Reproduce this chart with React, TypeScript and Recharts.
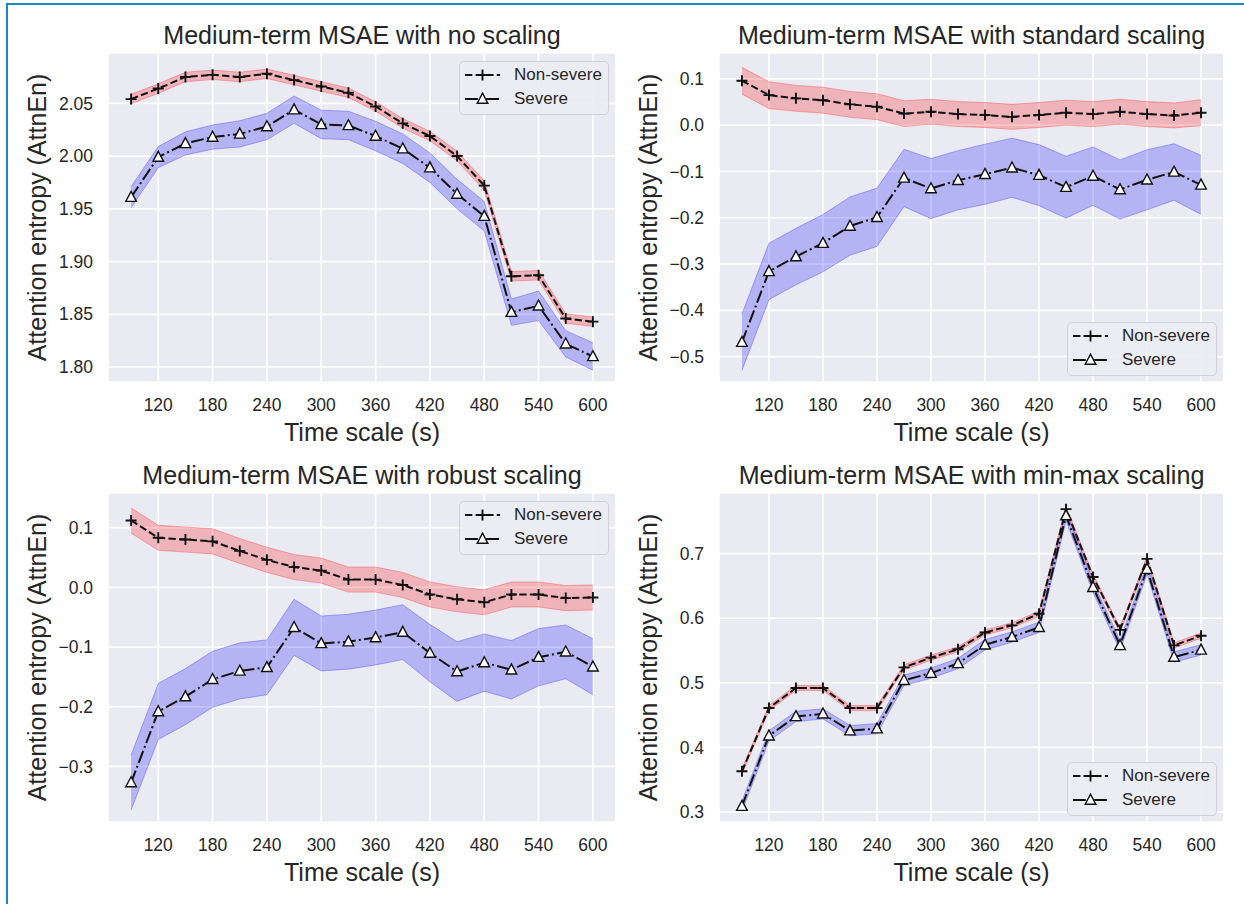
import React from "react";
import { ComposedChart, Area, Line, XAxis, YAxis, CartesianGrid } from "recharts";

// time scales (s) shared by every panel
const TIME_SCALES = [90, 120, 150, 180, 210, 240, 270, 300, 330, 360, 390, 420, 450, 480, 510, 540, 570, 600];
const X_TICKS = [120, 180, 240, 300, 360, 420, 480, 540, 600];

// no scaling
const NONE_NON_SEVERE = [2.054, 2.064, 2.075, 2.077, 2.075, 2.078, 2.072, 2.066, 2.06, 2.047, 2.031, 2.019, 2.0, 1.972, 1.886, 1.887, 1.846, 1.843];
const NONE_NON_SEVERE_CI = [0.0045, 0.0045, 0.0045, 0.0045, 0.0045, 0.0045, 0.0045, 0.0045, 0.0045, 0.0045, 0.0045, 0.0045, 0.0045, 0.0045, 0.0045, 0.0045, 0.0045, 0.0045];
const NONE_SEVERE = [1.961, 1.999, 2.012, 2.018, 2.021, 2.028, 2.044, 2.03, 2.029, 2.019, 2.007, 1.989, 1.964, 1.943, 1.852, 1.858, 1.822, 1.81];
const NONE_SEVERE_CI = [0.01, 0.01, 0.011, 0.0115, 0.0125, 0.0125, 0.013, 0.0135, 0.0135, 0.014, 0.014, 0.014, 0.014, 0.014, 0.0125, 0.014, 0.0125, 0.013];

// standard scaling
const STD_NON_SEVERE = [0.096, 0.065, 0.058, 0.054, 0.045, 0.04, 0.025, 0.029, 0.024, 0.022, 0.018, 0.022, 0.027, 0.024, 0.029, 0.024, 0.021, 0.027];
const STD_NON_SEVERE_CI = [0.029, 0.029, 0.028, 0.028, 0.028, 0.028, 0.028, 0.027, 0.027, 0.027, 0.027, 0.027, 0.027, 0.027, 0.027, 0.027, 0.027, 0.028];
const STD_SEVERE = [-0.469, -0.316, -0.284, -0.255, -0.218, -0.199, -0.114, -0.137, -0.119, -0.106, -0.092, -0.108, -0.134, -0.11, -0.139, -0.118, -0.101, -0.129];
const STD_SEVERE_CI = [0.061, 0.061, 0.061, 0.062, 0.063, 0.063, 0.062, 0.065, 0.064, 0.065, 0.064, 0.066, 0.067, 0.063, 0.064, 0.065, 0.061, 0.064];

// robust scaling
const ROBUST_NON_SEVERE = [0.112, 0.083, 0.08, 0.077, 0.061, 0.046, 0.034, 0.028, 0.013, 0.013, 0.004, -0.012, -0.02, -0.025, -0.012, -0.012, -0.018, -0.017];
const ROBUST_NON_SEVERE_CI = [0.021, 0.021, 0.021, 0.021, 0.021, 0.021, 0.021, 0.021, 0.021, 0.021, 0.021, 0.021, 0.021, 0.021, 0.021, 0.021, 0.021, 0.021];
const ROBUST_SEVERE = [-0.327, -0.208, -0.183, -0.154, -0.14, -0.134, -0.067, -0.094, -0.091, -0.084, -0.075, -0.11, -0.141, -0.126, -0.138, -0.117, -0.108, -0.133];
const ROBUST_SEVERE_CI = [0.046, 0.047, 0.047, 0.047, 0.047, 0.046, 0.047, 0.046, 0.046, 0.046, 0.046, 0.048, 0.05, 0.048, 0.049, 0.048, 0.045, 0.047];

// min-max scaling
const MINMAX_NON_SEVERE = [0.363, 0.461, 0.492, 0.492, 0.461, 0.461, 0.524, 0.539, 0.552, 0.578, 0.589, 0.607, 0.769, 0.664, 0.582, 0.692, 0.558, 0.573];
const MINMAX_NON_SEVERE_CI = [0.004, 0.004, 0.004, 0.004, 0.004, 0.004, 0.004, 0.004, 0.004, 0.004, 0.004, 0.004, 0.004, 0.004, 0.004, 0.004, 0.004, 0.004];
const MINMAX_SEVERE = [0.309, 0.418, 0.448, 0.452, 0.426, 0.429, 0.504, 0.515, 0.53, 0.559, 0.571, 0.586, 0.759, 0.648, 0.558, 0.676, 0.54, 0.551];
const MINMAX_SEVERE_CI = [0.008, 0.008, 0.008, 0.008, 0.008, 0.008, 0.008, 0.008, 0.008, 0.008, 0.008, 0.008, 0.008, 0.008, 0.008, 0.008, 0.008, 0.008];

const FONT = '"Liberation Sans", Arial, sans-serif';
const TEXT = "#262626";
const X_DOMAIN: [number, number] = [64.5, 625.5];
const AXIS_W = 90;
const AXIS_H = 70;
const NS_DASH = "7.4 3.2";
const SV_DASH = "12.8 3.2 2 3.2";

const tickStyle = { fill: TEXT, fontSize: 17.5, fontFamily: FONT };

const fmt = (digits: number) => (v: number) => {
  const s = Math.abs(v).toFixed(digits);
  return v < -1e-9 ? "\u2212" + s : s;
};

function plusDot(p: any) {
  const { cx, cy, index } = p;
  if (cx == null || cy == null) return <g key={`p-${index}`} />;
  return (
    <path
      key={`p-${index}`}
      d={`M${cx - 5.5},${cy}H${cx + 5.5}M${cx},${cy - 5.5}V${cy + 5.5}`}
      stroke="#111"
      strokeWidth={1.9}
      fill="none"
    />
  );
}

function triDot(p: any) {
  const { cx, cy, index } = p;
  if (cx == null || cy == null) return <g key={`t-${index}`} />;
  return (
    <path
      key={`t-${index}`}
      d={`M${cx},${cy - 5.8}L${cx + 5.3},${cy + 4.2}L${cx - 5.3},${cy + 4.2}Z`}
      fill="#fff"
      stroke="#111"
      strokeWidth={1.4}
    />
  );
}

function LegendBox({ left, top }: { left: number; top: number }) {
  const row = (y: number, label: string, dash: string, tri: boolean) => (
    <div style={{ position: "absolute", left: 0, top: y - 9, height: 18, width: "100%" }}>
      <svg width={36} height={18} style={{ position: "absolute", left: 5, top: 0 }}>
        <line x1={0} x2={35} y1={9} y2={9} stroke="#111" strokeWidth={2} strokeDasharray={dash} />
        {tri ? triDot({ cx: 17.5, cy: 9, index: 0 }) : plusDot({ cx: 17.5, cy: 9, index: 0 })}
      </svg>
      <span style={{ position: "absolute", left: 54, top: 0, lineHeight: "18px", fontSize: 17, color: TEXT, whiteSpace: "nowrap" }}>
        {label}
      </span>
    </div>
  );
  return (
    <div
      style={{
        position: "absolute",
        left,
        top,
        width: 150,
        height: 54,
        boxSizing: "border-box",
        background: "rgba(236,236,243,0.88)",
        border: "1px solid #d0d0d6",
        borderRadius: 5,
        fontFamily: FONT,
      }}
    >
      {row(13, "Non-severe", NS_DASH, false)}
      {row(37, "Severe", SV_DASH, true)}
    </div>
  );
}

type PanelProps = {
  left: number;
  top: number;
  width: number;
  height: number;
  title: string;
  nonSevere: number[];
  nonSevereCi: number[];
  severe: number[];
  severeCi: number[];
  yDomain: [number, number];
  yTicks: number[];
  digits: number;
  legendAt: "top" | "bottom";
};

function Panel(props: PanelProps) {
  const { left, top, width, height, title, nonSevere, nonSevereCi, severe, severeCi, yDomain, yTicks, digits, legendAt } = props;
  const data = TIME_SCALES.map((t, i) => ({
    t,
    ns: nonSevere[i],
    nsBand: [nonSevere[i] - nonSevereCi[i], nonSevere[i] + nonSevereCi[i]],
    sv: severe[i],
    svBand: [severe[i] - severeCi[i], severe[i] + severeCi[i]],
  }));
  const cx = left + width / 2;
  const cy = top + height / 2;
  const legendLeft = left + width - 7 - 150;
  const legendTop = legendAt === "top" ? top + 8 : top + height - 6 - 54;

  return (
    <>
      <div
        style={{
          position: "absolute",
          left: cx - 300,
          width: 600,
          top: top - 18 - 12.5,
          fontSize: 25.1,
          lineHeight: "25px",
          textAlign: "center",
          color: TEXT,
          fontFamily: FONT,
          whiteSpace: "nowrap",
        }}
      >
        {title}
      </div>
      <div style={{ position: "absolute", left: left - AXIS_W, top, width: width + AXIS_W, height: height + AXIS_H }}>
        <ComposedChart
          width={width + AXIS_W}
          height={height + AXIS_H}
          data={data}
          margin={{ top: 0, right: 0, bottom: 0, left: 0 }}
        >
          <CartesianGrid fill="#EAEAF2" stroke="#FFFFFF" strokeWidth={1.7} />
          <XAxis
            dataKey="t"
            type="number"
            domain={X_DOMAIN}
            ticks={X_TICKS}
            interval={0}
            allowDataOverflow
            axisLine={false}
            tickLine={false}
            tickSize={0}
            tickMargin={17}
            height={AXIS_H}
            tick={tickStyle}
          />
          <YAxis
            type="number"
            domain={yDomain}
            ticks={yTicks}
            interval={0}
            allowDataOverflow
            axisLine={false}
            tickLine={false}
            tickSize={0}
            tickMargin={15}
            width={AXIS_W}
            tick={tickStyle}
            tickFormatter={fmt(digits)}
          />
          <Area
            type="linear"
            dataKey="nsBand"
            fill="#FF0000"
            fillOpacity={0.23}
            stroke="#FF0000"
            strokeOpacity={0.28}
            strokeWidth={1}
            isAnimationActive={false}
          />
          <Area
            type="linear"
            dataKey="svBand"
            fill="#0000FF"
            fillOpacity={0.23}
            stroke="#0000FF"
            strokeOpacity={0.28}
            strokeWidth={1}
            isAnimationActive={false}
          />
          <Line
            type="linear"
            dataKey="ns"
            stroke="#111"
            strokeWidth={2}
            strokeDasharray={NS_DASH}
            dot={plusDot}
            activeDot={false}
            isAnimationActive={false}
          />
          <Line
            type="linear"
            dataKey="sv"
            stroke="#111"
            strokeWidth={2}
            strokeDasharray={SV_DASH}
            dot={triDot}
            activeDot={false}
            isAnimationActive={false}
          />
        </ComposedChart>
      </div>
      <LegendBox left={legendLeft} top={legendTop} />
      <div
        style={{
          position: "absolute",
          left: cx - 200,
          width: 400,
          top: top + height + 50 - 12.5,
          fontSize: 25,
          lineHeight: "25px",
          textAlign: "center",
          color: TEXT,
          fontFamily: FONT,
        }}
      >
        Time scale (s)
      </div>
      <div
        style={{
          position: "absolute",
          left: left - 71 - 200,
          width: 400,
          top: cy - 12.5,
          fontSize: 25,
          lineHeight: "25px",
          textAlign: "center",
          color: TEXT,
          fontFamily: FONT,
          transform: "rotate(-90deg)",
          whiteSpace: "nowrap",
        }}
      >
        Attention entropy (AttnEn)
      </div>
    </>
  );
}

export default function App() {
  return (
    <div style={{ position: "absolute", left: 0, top: 0, width: 1244, height: 904, background: "#fff", overflow: "hidden" }}>
      <div style={{ position: "absolute", left: 6, top: 3, width: 1238, height: 2, background: "#1b88c0" }} />
      <div style={{ position: "absolute", left: 6, top: 3, width: 2, height: 901, background: "#1b88c0" }} />
      <Panel
        left={108}
        top={53}
        width={508}
        height={329}
        title="Medium-term MSAE with no scaling"
        nonSevere={NONE_NON_SEVERE}
        nonSevereCi={NONE_NON_SEVERE_CI}
        severe={NONE_SEVERE}
        severeCi={NONE_SEVERE_CI}
        yDomain={[1.7858, 2.0977]}
        yTicks={[1.8, 1.85, 1.9, 1.95, 2.0, 2.05]}
        digits={2}
        legendAt="top"
      />
      <Panel
        left={719}
        top={53}
        width={505}
        height={329}
        title="Medium-term MSAE with standard scaling"
        nonSevere={STD_NON_SEVERE}
        nonSevereCi={STD_NON_SEVERE_CI}
        severe={STD_SEVERE}
        severeCi={STD_SEVERE_CI}
        yDomain={[-0.555, 0.156]}
        yTicks={[-0.5, -0.4, -0.3, -0.2, -0.1, 0.0, 0.1]}
        digits={1}
        legendAt="bottom"
      />
      <Panel
        left={108}
        top={493}
        width={508}
        height={329}
        title="Medium-term MSAE with robust scaling"
        nonSevere={ROBUST_NON_SEVERE}
        nonSevereCi={ROBUST_NON_SEVERE_CI}
        severe={ROBUST_SEVERE}
        severeCi={ROBUST_SEVERE_CI}
        yDomain={[-0.393, 0.158]}
        yTicks={[-0.3, -0.2, -0.1, 0.0, 0.1]}
        digits={1}
        legendAt="top"
      />
      <Panel
        left={719}
        top={493}
        width={505}
        height={329}
        title="Medium-term MSAE with min-max scaling"
        nonSevere={MINMAX_NON_SEVERE}
        nonSevereCi={MINMAX_NON_SEVERE_CI}
        severe={MINMAX_SEVERE}
        severeCi={MINMAX_SEVERE_CI}
        yDomain={[0.2845, 0.794]}
        yTicks={[0.3, 0.4, 0.5, 0.6, 0.7]}
        digits={1}
        legendAt="bottom"
      />
    </div>
  );
}
